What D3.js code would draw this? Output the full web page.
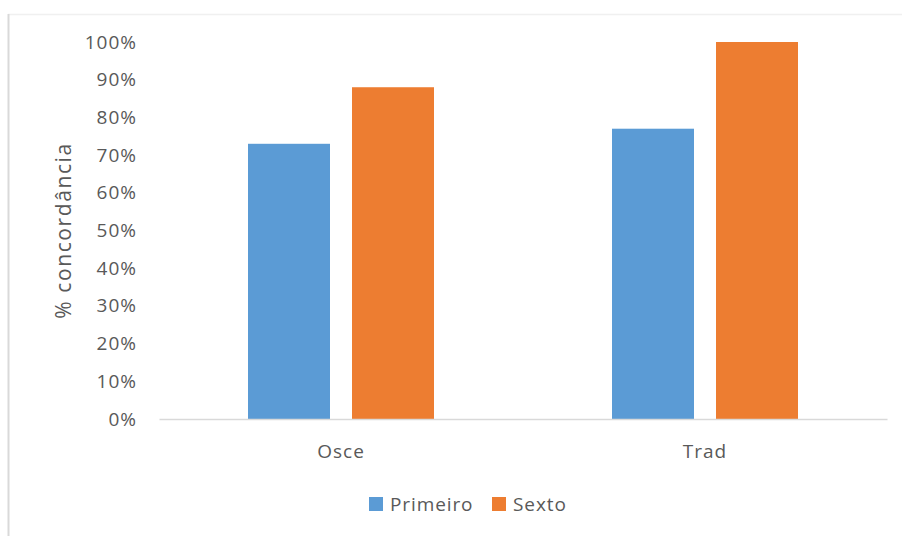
<!DOCTYPE html>
<html>
<head>
<meta charset="utf-8">
<script src="https://cdn.jsdelivr.net/npm/d3@7"></script>
<style>
  html, body { margin: 0; padding: 0; background: #fff; }
  svg { display: block; font-family: "Open Sans", "Noto Sans", sans-serif; }
</style>
</head>
<body>
<svg id="chart" width="902" height="536"></svg>
<script>
// Concordance by method and school year
const categories = ["Osce", "Trad"];
const seriesNames = ["Primeiro", "Sexto"];
const primeiro = [0.73, 0.77];
const sexto = [0.88, 1.00];
const yTicks = [0, 0.1, 0.2, 0.3, 0.4, 0.5, 0.6, 0.7, 0.8, 0.9, 1.0];
const colors = ["#5b9bd5", "#ed7d31"];

const seriesValues = [primeiro, sexto];
const rows = categories.map((c, i) => ({
  category: c,
  values: seriesNames.map((s, j) => ({ series: s, value: seriesValues[j][i], color: colors[j] }))
}));

const svg = d3.select("#chart");
const W = 902, H = 536;
const plot = { left: 159, right: 887, top: 42, bottom: 419 };
const textColor = "#595959";

// Chart frame
svg.append("line").attr("x1", 8).attr("x2", W).attr("y1", 14.5).attr("y2", 14.5)
  .attr("stroke", "#f0f0f0").attr("stroke-width", 1.5);
svg.append("line").attr("x1", 8.5).attr("x2", 8.5).attr("y1", 14).attr("y2", H)
  .attr("stroke", "#d9d9d9").attr("stroke-width", 2);

const x0 = d3.scaleBand().domain(categories).range([plot.left, plot.right]).paddingInner(0).paddingOuter(0);
const groupWidth = 186;
const x1 = d3.scaleBand().domain(seriesNames).range([0, groupWidth]).paddingInner(22 / 104).paddingOuter(0);
const y = d3.scaleLinear().domain([0, 1]).range([plot.bottom, plot.top]);

// Y axis labels
const yAxis = d3.axisLeft(y).tickValues(yTicks).tickFormat(d3.format(".0%")).tickSize(0).tickPadding(0);
const gy = svg.append("g").attr("transform", `translate(137,0)`).call(yAxis);
gy.select(".domain").remove();
gy.selectAll("text").attr("fill", textColor).style("font-size", "19px")
  .style("letter-spacing", "1px")
  .style("font-family", "'Open Sans', sans-serif");

// Bars
const groups = svg.append("g").selectAll("g").data(rows).join("g")
  .attr("transform", d => `translate(${x0(d.category) + (x0.bandwidth() - groupWidth) / 2},0)`);
groups.selectAll("rect").data(d => d.values).join("rect")
  .attr("x", d => x1(d.series))
  .attr("width", x1.bandwidth())
  .attr("y", d => y(d.value))
  .attr("height", d => y(0) - y(d.value))
  .attr("fill", d => d.color);

// Baseline / x axis
const xAxis = d3.axisBottom(x0).tickSize(0).tickPadding(0);
const gx = svg.append("g").attr("transform", `translate(0,${plot.bottom})`).call(xAxis);
gx.select(".domain").attr("stroke", "#d9d9d9").attr("stroke-width", 1.5);
gx.selectAll("text").attr("fill", textColor).attr("dy", 0).attr("y", 39)
  .style("font-size", "19px").style("letter-spacing", "1px")
  .style("font-family", "'Open Sans', sans-serif");

// Y axis title
svg.append("text")
  .attr("transform", `translate(71,${(plot.top + plot.bottom) / 2}) rotate(-90)`)
  .attr("text-anchor", "middle")
  .attr("fill", textColor)
  .style("font-size", "21px")
  .style("letter-spacing", "1.6px")
  .text("% concordância");

// Legend
const legend = svg.append("g");
const legendItems = [
  { name: seriesNames[0], color: colors[0], x: 369 },
  { name: seriesNames[1], color: colors[1], x: 492 }
];
legendItems.forEach(it => {
  legend.append("rect").attr("x", it.x).attr("y", 497).attr("width", 14).attr("height", 14).attr("fill", it.color);
  legend.append("text").attr("x", it.x + 21).attr("y", 511).attr("fill", textColor)
    .style("font-size", "19px").style("letter-spacing", "0.9px").text(it.name);
});
</script>
</body>
</html>
